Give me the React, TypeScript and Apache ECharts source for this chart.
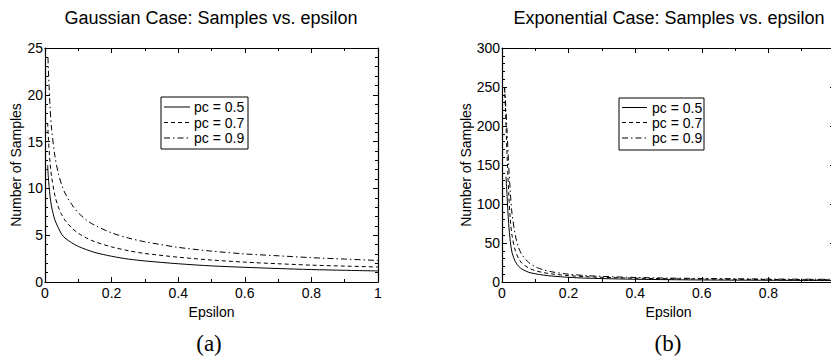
import React, { useEffect, useRef } from "react";
import * as echarts from "echarts";

// ---------- data ----------
const gaussEpsSolid = [0.008, 0.01, 0.015, 0.02, 0.03, 0.04, 0.05, 0.06, 0.08, 0.1, 0.125, 0.15, 0.2, 0.25, 0.3, 0.4, 0.5, 0.6, 0.7, 0.8, 0.9, 1.0];
const gaussPc05 = [12.5, 11.2, 9.2, 8.0, 6.6, 5.8, 5.1, 4.7, 4.2, 3.8, 3.45, 3.15, 2.75, 2.45, 2.25, 1.95, 1.72, 1.57, 1.44, 1.33, 1.25, 1.18];
const gaussEpsDash = [0.008, 0.01, 0.015, 0.02, 0.03, 0.04, 0.05, 0.06, 0.08, 0.1, 0.125, 0.15, 0.2, 0.25, 0.3, 0.4, 0.5, 0.6, 0.7, 0.8, 0.9, 1.0];
const gaussPc07 = [17.0, 15.5, 12.8, 11.2, 9.2, 8.0, 7.2, 6.6, 5.8, 5.2, 4.7, 4.3, 3.75, 3.35, 3.05, 2.65, 2.35, 2.12, 1.95, 1.8, 1.7, 1.6];
const gaussEpsDot = [0.009, 0.01, 0.015, 0.02, 0.03, 0.04, 0.05, 0.06, 0.08, 0.1, 0.125, 0.15, 0.2, 0.25, 0.3, 0.4, 0.5, 0.6, 0.7, 0.8, 0.9, 1.0];
const gaussPc09 = [24.0, 22.8, 18.8, 16.3, 13.4, 11.6, 10.4, 9.5, 8.3, 7.4, 6.6, 6.05, 5.25, 4.7, 4.3, 3.7, 3.3, 3.0, 2.8, 2.6, 2.45, 2.3];

const expEpsSolid = [0.012, 0.015, 0.02, 0.025, 0.03, 0.04, 0.05, 0.06, 0.08, 0.1, 0.125, 0.15, 0.2, 0.25, 0.3, 0.4, 0.5, 0.6, 0.7, 0.8, 0.9, 1.0];
const expPc05 = [135, 112, 75, 52, 38, 26, 20, 16.5, 12.5, 10.5, 8.8, 7.6, 6.0, 5.0, 4.4, 3.5, 3.0, 2.6, 2.4, 2.2, 2.0, 1.9];
const expEpsDash = [0.008, 0.01, 0.012, 0.015, 0.02, 0.025, 0.03, 0.04, 0.05, 0.06, 0.08, 0.1, 0.125, 0.15, 0.2, 0.25, 0.3, 0.4, 0.5, 0.6, 0.7, 0.8, 0.9, 1.0];
const expPc07 = [250, 225, 200, 165, 115, 80, 60, 40, 30, 24, 18, 14.5, 12, 10.3, 8.2, 6.9, 6.0, 4.9, 4.2, 3.8, 3.5, 3.2, 3.0, 2.9];
const expEpsDot = [0.007, 0.01, 0.012, 0.015, 0.02, 0.025, 0.03, 0.04, 0.05, 0.06, 0.08, 0.1, 0.125, 0.15, 0.2, 0.25, 0.3, 0.4, 0.5, 0.6, 0.7, 0.8, 0.9, 1.0];
const expPc09 = [250, 235, 220, 195, 150, 115, 88, 60, 44, 35, 25, 19.5, 15.5, 13, 10, 8.3, 7.2, 5.8, 5.0, 4.5, 4.1, 3.8, 3.6, 3.4];

const legendLabels = ["pc = 0.5", "pc = 0.7", "pc = 0.9"];
const titles = ["Gaussian Case: Samples vs. epsilon", "Exponential Case: Samples vs. epsilon"];
const captions = ["(a)", "(b)"];

const FONT = "Liberation Sans, Arial, Helvetica, sans-serif";
const dashes: any[] = ["solid", [4, 3], [6, 3, 1.5, 3]];

function pairs(xs: number[], ys: number[]) {
  return xs.map((x, i) => [x, ys[i]]);
}

function makeXAxis(gridIndex: number, top: boolean, showMax: boolean) {
  return {
    type: "value",
    gridIndex,
    position: top ? "top" : "bottom",
    min: 0,
    max: 1,
    interval: 0.2,
    name: top ? "" : "Epsilon",
    nameLocation: "middle",
    nameGap: 17,
    nameTextStyle: { color: "#000", fontSize: 14, fontFamily: FONT },
    axisLine: { show: true, onZero: false, lineStyle: { color: "#000", width: 1.2 } },
    axisTick: { show: true, inside: true, length: 5, lineStyle: { color: "#000", width: 1 } },
    minorTick: { show: true, splitNumber: 2, length: 3, lineStyle: { color: "#000", width: 1 } },
    splitLine: { show: false },
    axisLabel: { show: !top, showMaxLabel: showMax, color: "#000", fontSize: 14, fontFamily: FONT, margin: 4 },
  };
}

function makeYAxis(gridIndex: number, right: boolean, max: number, interval: number) {
  return {
    type: "value",
    gridIndex,
    position: right ? "right" : "left",
    min: 0,
    max,
    interval,
    name: right ? "" : "Number of Samples",
    nameLocation: "middle",
    nameGap: 22,
    nameTextStyle: { color: "#000", fontSize: 14, fontFamily: FONT },
    axisLine: { show: true, onZero: false, lineStyle: { color: "#000", width: 1.2 } },
    axisTick: { show: true, inside: true, length: 5, lineStyle: { color: "#000", width: 1 } },
    minorTick: { show: true, splitNumber: 5, length: 3, lineStyle: { color: "#000", width: 1 } },
    splitLine: { show: false },
    axisLabel: { show: !right, color: "#000", fontSize: 14, fontFamily: FONT, margin: 2 },
  };
}

function lineSeries(name: string, data: number[][], axisIdx: number, dash: any) {
  return {
    name,
    type: "line",
    xAxisIndex: axisIdx,
    yAxisIndex: axisIdx,
    data,
    smooth: 0.3,
    showSymbol: false,
    symbol: "none",
    clip: true,
    lineStyle: { color: "#000", width: 1, type: dash },
  };
}

function legendGraphic(bx: number, by: number, bw: number, bh: number, lx0: number, lx1: number, tx: number, rows: number[]) {
  const els: any[] = [
    {
      type: "rect",
      shape: { x: bx, y: by, width: bw, height: bh },
      style: { fill: "#fff", stroke: "#000", lineWidth: 1 },
      z: 100,
    },
  ];
  rows.forEach((ry, i) => {
    els.push({
      type: "line",
      shape: { x1: lx0, y1: ry, x2: lx1, y2: ry },
      style: { stroke: "#000", lineWidth: 1, lineDash: dashes[i] === "solid" ? null : dashes[i] },
      z: 101,
    });
    els.push({
      type: "text",
      x: tx,
      y: ry,
      style: {
        text: legendLabels[i],
        fill: "#000",
        font: `14px ${FONT}`,
        textAlign: "left",
        align: "left",
        textVerticalAlign: "middle",
        verticalAlign: "middle",
      },
      z: 101,
    });
  });
  return els;
}

function textEl(text: string, x: number, y: number, font: string) {
  return {
    type: "text",
    x,
    y,
    style: {
      text,
      fill: "#000",
      font,
      textAlign: "center",
      align: "center",
      textVerticalAlign: "middle",
      verticalAlign: "middle",
    },
  };
}

export default function App() {
  const ref = useRef<HTMLDivElement>(null);
  useEffect(() => {
    if (!ref.current) return;
    const chart = echarts.init(ref.current, undefined, { renderer: "svg" });
    const option: any = {
      animation: false,
      backgroundColor: "#fff",
      grid: [
        { left: 45, top: 48, width: 333, height: 234, containLabel: false, outerBoundsMode: "none" },
        { left: 502, top: 48, width: 333, height: 234, containLabel: false, outerBoundsMode: "none" },
      ],
      xAxis: [makeXAxis(0, false, true), makeXAxis(0, true, true), makeXAxis(1, false, false), makeXAxis(1, true, false)],
      yAxis: [makeYAxis(0, false, 25, 5), makeYAxis(0, true, 25, 5), makeYAxis(1, false, 300, 50), makeYAxis(1, true, 300, 50)],
      series: [
        lineSeries(legendLabels[0], pairs(gaussEpsSolid, gaussPc05), 0, dashes[0]),
        lineSeries(legendLabels[1], pairs(gaussEpsDash, gaussPc07), 0, dashes[1]),
        lineSeries(legendLabels[2], pairs(gaussEpsDot, gaussPc09), 0, dashes[2]),
        lineSeries(legendLabels[0], pairs(expEpsSolid, expPc05), 2, dashes[0]),
        lineSeries(legendLabels[1], pairs(expEpsDash, expPc07), 2, dashes[1]),
        lineSeries(legendLabels[2], pairs(expEpsDot, expPc09), 2, dashes[2]),
      ],
      graphic: [
        textEl(titles[0], 211, 18, `18px ${FONT}`),
        textEl(titles[1], 669, 18, `18px ${FONT}`),
        textEl(captions[0], 209, 343, `23px "Liberation Serif", "DejaVu Serif", serif`),
        textEl(captions[1], 668, 343, `23px "Liberation Serif", "DejaVu Serif", serif`),
        ...legendGraphic(161, 97, 87, 52, 164, 190, 194, [107, 122.5, 138]),
        ...legendGraphic(619, 98, 85, 52, 622, 647, 652, [107.5, 122.5, 138]),
      ],
    };
    chart.setOption(option);
    return () => chart.dispose();
  }, []);
  return (
    <div
      ref={ref}
      style={{ position: "absolute", left: 0, top: 0, width: 831, height: 364, background: "#fff" }}
    />
  );
}
